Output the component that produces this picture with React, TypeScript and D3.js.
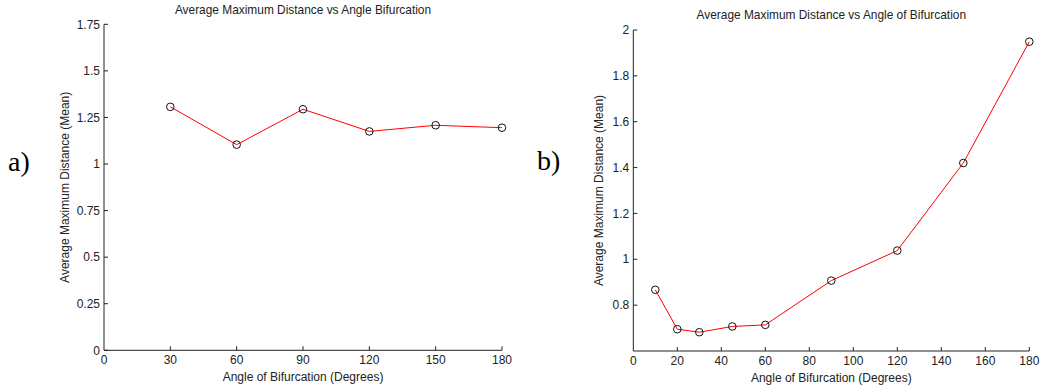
import React from "react";
import * as d3 from "d3";

const anglesA = [30, 60, 90, 120, 150, 180];
const valuesA = [1.307, 1.104, 1.294, 1.175, 1.208, 1.195];
const xTicksA = [0, 30, 60, 90, 120, 150, 180];
const yTicksA = [0, 0.25, 0.5, 0.75, 1, 1.25, 1.5, 1.75];

const anglesB = [10, 20, 30, 45, 60, 90, 120, 150, 180];
const valuesB = [0.867, 0.695, 0.682, 0.707, 0.714, 0.907, 1.038, 1.42, 1.949];
const xTicksB = [0, 20, 40, 60, 80, 100, 120, 140, 160, 180];
const yTicksB = [0.8, 1, 1.2, 1.4, 1.6, 1.8, 2];

const titleA = "Average Maximum Distance vs Angle Bifurcation";
const titleB = "Average Maximum Distance vs Angle of Bifurcation";
const xLabel = "Angle of Bifurcation (Degrees)";
const yLabel = "Average Maximum Distance (Mean)";

const FONT = "'Liberation Sans', Arial, sans-serif";

type PanelProps = {
  xs: number[];
  ys: number[];
  xTicks: number[];
  yTicks: number[];
  xDomain: [number, number];
  yDomain: [number, number];
  left: number;
  right: number;
  top: number;
  bottom: number;
  title: string;
  titleY: number;
  yLabelX: number;
  tag: string;
  tagX: number;
  tagY: number;
  fmtY: (v: number) => string;
};

function Panel(p: PanelProps) {
  const x = d3.scaleLinear().domain(p.xDomain).range([p.left, p.right]);
  const y = d3.scaleLinear().domain(p.yDomain).range([p.bottom, p.top]);
  const line = d3
    .line<number>()
    .x((_, i) => x(p.xs[i]))
    .y((d) => y(d));
  const cx = (p.left + p.right) / 2;
  const cy = (p.top + p.bottom) / 2;
  const tl = 4;
  return (
    <g fontFamily={FONT} fill="#222">
      <text x={cx} y={p.titleY} textAnchor="middle" fontSize={11.9}>
        {p.title}
      </text>
      <path d={`M${p.left},${p.top}V${p.bottom}H${p.right}`} fill="none" stroke="#222" strokeWidth={1} />
      {p.yTicks.map((t) => (
        <g key={"y" + t}>
          <line x1={p.left} x2={p.left + tl} y1={y(t)} y2={y(t)} stroke="#222" />
          <text x={p.left - 4} y={y(t)} dy="0.35em" textAnchor="end" fontSize={12}>
            {p.fmtY(t)}
          </text>
        </g>
      ))}
      {p.xTicks.map((t) => (
        <g key={"x" + t}>
          {t !== p.xDomain[0] && (
            <line x1={x(t)} x2={x(t)} y1={p.bottom} y2={p.bottom - tl} stroke="#222" />
          )}
          <text x={x(t)} y={p.bottom + 14} textAnchor="middle" fontSize={12}>
            {t}
          </text>
        </g>
      ))}
      <text x={cx} y={p.bottom + 31} textAnchor="middle" fontSize={12}>
        {xLabel}
      </text>
      <text
        transform={`translate(${p.yLabelX},${cy}) rotate(-90)`}
        textAnchor="middle"
        fontSize={12}
      >
        {yLabel}
      </text>
      <path d={line(p.ys) || ""} fill="none" stroke="#ff0000" strokeWidth={1} />
      {p.ys.map((v, i) => (
        <circle key={i} cx={x(p.xs[i])} cy={y(v)} r={3.8} fill="none" stroke="#111" strokeWidth={1} />
      ))}
      <text x={p.tagX} y={p.tagY} fontFamily="'Liberation Serif', 'Times New Roman', serif" fontSize={28} fill="#000">
        {p.tag}
      </text>
    </g>
  );
}

export default function App() {
  return (
    <svg width={1043} height={389} style={{ position: "absolute", left: 0, top: 0, background: "#fff" }}>
      <rect width={1043} height={389} fill="#fff" />
      <Panel
        xs={anglesA}
        ys={valuesA}
        xTicks={xTicksA}
        yTicks={yTicksA}
        xDomain={[0, 180]}
        yDomain={[0, 1.75]}
        left={104}
        right={502}
        top={24.3}
        bottom={350.3}
        title={titleA}
        titleY={14}
        yLabelX={69}
        tag="a)"
        tagX={8}
        tagY={171}
        fmtY={(v) => String(v)}
      />
      <Panel
        xs={anglesB}
        ys={valuesB}
        xTicks={xTicksB}
        yTicks={yTicksB}
        xDomain={[0, 180]}
        yDomain={[0.6, 2]}
        left={633.3}
        right={1029.3}
        top={30}
        bottom={351}
        title={titleB}
        titleY={19}
        yLabelX={603}
        tag="b)"
        tagX={537}
        tagY={170}
        fmtY={(v) => String(v)}
      />
    </svg>
  );
}
